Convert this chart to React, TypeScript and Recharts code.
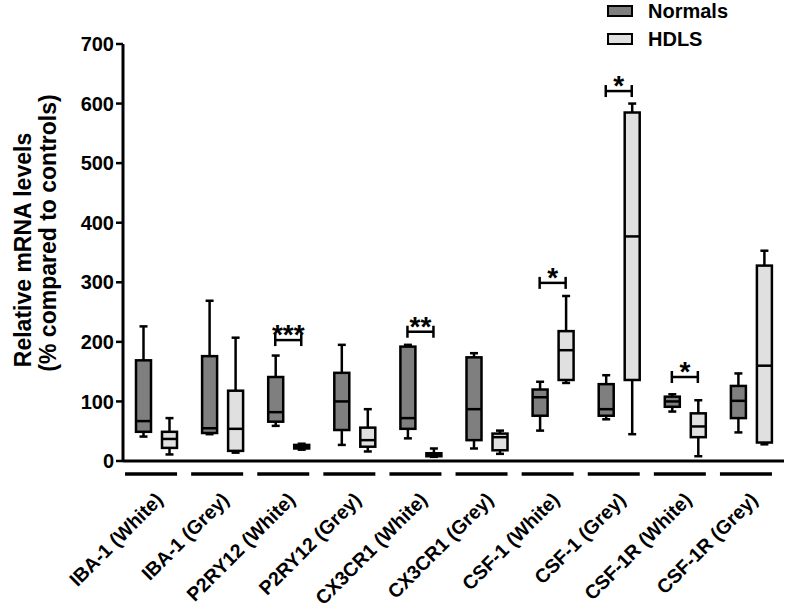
import React from "react";
import { Bar, ComposedChart, Legend, Scatter, XAxis, YAxis } from "recharts";

const categories = [
  "IBA-1 (White)",
  "IBA-1 (Grey)",
  "P2RY12 (White)",
  "P2RY12 (Grey)",
  "CX3CR1 (White)",
  "CX3CR1 (Grey)",
  "CSF-1 (White)",
  "CSF-1 (Grey)",
  "CSF-1R (White)",
  "CSF-1R (Grey)",
];

// Normals: min / Q1 / median / Q3 / max
const normalsMin = [41, 45, 59, 27, 38, 21, 51, 70, 83, 48];
const normalsQ1 = [49, 47, 66, 52, 54, 35, 76, 76, 91, 72];
const normalsMedian = [67, 55, 82, 100, 72, 87, 107, 87, 100, 101];
const normalsQ3 = [169, 176, 141, 148, 192, 174, 120, 129, 108, 126];
const normalsMax = [226, 269, 177, 195, 195, 181, 133, 144, 112, 147];

// HDLS: min / Q1 / median / Q3 / max
const hdlsMin = [11, 14, 19, 16, 7, 12, 131, 45, 8, 28];
const hdlsQ1 = [22, 17, 21, 24, 8, 18, 136, 136, 40, 31];
const hdlsMedian = [37, 54, 24, 35, 10, 40, 186, 377, 58, 160];
const hdlsQ3 = [49, 118, 27, 56, 13, 46, 218, 585, 80, 328];
const hdlsMax = [72, 207, 29, 87, 21, 51, 277, 600, 102, 353];

// significance brackets
const sigLevel = [null, null, 203, null, 217, null, 299, 621, 141, null];
const sigStars = ["", "", "***", "", "**", "", "*", "*", "*", ""];

const yTicks = [0, 100, 200, 300, 400, 500, 600, 700];

const NORMALS_FILL = "#7f7f7f";
const HDLS_FILL = "#e0e0e0";
const FONT = "'Liberation Sans', Arial, Helvetica, sans-serif";

const data = categories.map((name, i) => ({
  name,
  nMin: normalsMin[i],
  nQ1: normalsQ1[i],
  nMed: normalsMedian[i],
  nQ3: normalsQ3[i],
  nMax: normalsMax[i],
  hMin: hdlsMin[i],
  hQ1: hdlsQ1[i],
  hMed: hdlsMedian[i],
  hQ3: hdlsQ3[i],
  hMax: hdlsMax[i],
  sig: sigLevel[i],
  stars: sigStars[i],
}));

const boxShape = (p: "n" | "h", fill: string) => (props: any) => {
  const { x, y, width, height, payload } = props;
  const lo = payload[p + "Min"];
  const hi = payload[p + "Max"];
  const top = Math.min(y, y + height);
  const span = Math.abs(height);
  const py = (v: number) => (hi === lo ? top : top + (span * (hi - v)) / (hi - lo));
  const cx = x + width / 2;
  const cap = 4;
  const q3 = py(payload[p + "Q3"]);
  const q1 = py(payload[p + "Q1"]);
  const med = py(payload[p + "Med"]);
  const yMax = py(hi);
  const yMin = py(lo);
  return (
    <g stroke="#000" strokeWidth={2.5} fill="none">
      <line x1={cx} x2={cx} y1={yMax} y2={q3} />
      <line x1={cx} x2={cx} y1={q1} y2={yMin} />
      <line x1={cx - cap} x2={cx + cap} y1={yMax} y2={yMax} />
      <line x1={cx - cap} x2={cx + cap} y1={yMin} y2={yMin} />
      <rect x={x} y={q3} width={width} height={Math.max(q1 - q3, 1)} fill={fill} />
      <line x1={x} x2={x + width} y1={med} y2={med} />
    </g>
  );
};

const SigShape = (props: any) => {
  const { cx, cy, payload } = props;
  if (payload == null || payload.sig == null) return <g />;
  const half = 13;
  return (
    <g>
      <g stroke="#000" strokeWidth={2.5}>
        <line x1={cx - half} x2={cx + half} y1={cy} y2={cy} />
        <line x1={cx - half} x2={cx - half} y1={cy - 6} y2={cy + 6} />
        <line x1={cx + half} x2={cx + half} y1={cy - 6} y2={cy + 6} />
      </g>
      <text
        x={cx}
        y={cy + 4}
        textAnchor="middle"
        fontFamily={FONT}
        fontWeight="bold"
        fontSize={28}
        fill="#000"
      >
        {payload.stars}
      </text>
    </g>
  );
};

const CategoryTick = (props: any) => {
  const { x, y, payload } = props;
  const ax = x + 8;
  const ay = y + 40;
  return (
    <g>
      <line x1={x - 31} x2={x + 21} y1={y + 13} y2={y + 13} stroke="#000" strokeWidth={3.5} />
      <text
        x={ax}
        y={ay}
        textAnchor="end"
        transform={`rotate(-45, ${ax}, ${ay})`}
        fontFamily={FONT}
        fontWeight="bold"
        fontSize={19.5}
        fill="#000"
      >
        {payload.value}
      </text>
    </g>
  );
};

const YTitle = (props: any) => {
  const vb = props.viewBox || { x: 0, y: 44, height: 417 };
  const cy1 = 250;
  const cy2 = 233;
  const x1 = vb.x + 31;
  const x2 = vb.x + 56;
  return (
    <g fontFamily={FONT} fontWeight="bold" fontSize={23} fill="#000">
      <text x={x1} y={cy1} textAnchor="middle" transform={`rotate(-90, ${x1}, ${cy1})`}>
        Relative mRNA levels
      </text>
      <text x={x2} y={cy2} textAnchor="middle" transform={`rotate(-90, ${x2}, ${cy2})`}>
        (% compared to controls)
      </text>
    </g>
  );
};

const legendItems = [
  { name: "Normals", fill: NORMALS_FILL },
  { name: "HDLS", fill: HDLS_FILL },
];

const LegendContent = () => (
  <div style={{ fontFamily: FONT, fontWeight: "bold", fontSize: 20, lineHeight: "22px" }}>
    {legendItems.map((it, i) => (
      <div
        key={it.name}
        style={{ display: "flex", alignItems: "center", height: 22, marginTop: i === 0 ? 0 : 6 }}
      >
        <span
          style={{
            display: "inline-block",
            width: 22,
            height: 8,
            background: it.fill,
            border: "2.5px solid #000",
            marginRight: 15,
          }}
        />
        <span>{it.name}</span>
      </div>
    ))}
  </div>
);

export default function App() {
  return (
    <div style={{ position: "absolute", left: 0, top: 0, background: "#fff" }}>
      <ComposedChart
        width={787}
        height={606}
        data={data}
        margin={{ top: 44, right: 3, left: 0, bottom: 0 }}
        barSize={15}
        barGap={11}
      >
        <XAxis
          dataKey="name"
          interval={0}
          height={145}
          tickLine={false}
          tickSize={0}
          tickMargin={0}
          axisLine={{ stroke: "#000", strokeWidth: 3 }}
          tick={<CategoryTick />}
        />
        <YAxis
          width={123}
          domain={[0, 700]}
          ticks={yTicks}
          interval={0}
          tickSize={7}
          tickMargin={2}
          axisLine={{ stroke: "#000", strokeWidth: 3 }}
          tickLine={{ stroke: "#000", strokeWidth: 2.5 }}
          tick={{ fill: "#000", fontSize: 20, fontWeight: "bold", fontFamily: FONT }}
          label={{ content: <YTitle /> }}
        />
        <Legend
          layout="horizontal"
          align="center"
          verticalAlign="middle"
          wrapperStyle={{ left: 607, top: 0, width: 170 }}
          content={<LegendContent />}
        />
        <Bar
          name="Normals"
          dataKey={(d: any) => [d.nMin, d.nMax]}
          fill={NORMALS_FILL}
          shape={boxShape("n", NORMALS_FILL)}
          isAnimationActive={false}
        />
        <Bar
          name="HDLS"
          dataKey={(d: any) => [d.hMin, d.hMax]}
          fill={HDLS_FILL}
          shape={boxShape("h", HDLS_FILL)}
          isAnimationActive={false}
        />
        <Scatter
          dataKey="sig"
          shape={<SigShape />}
          legendType="none"
          isAnimationActive={false}
        />
      </ComposedChart>
    </div>
  );
}
